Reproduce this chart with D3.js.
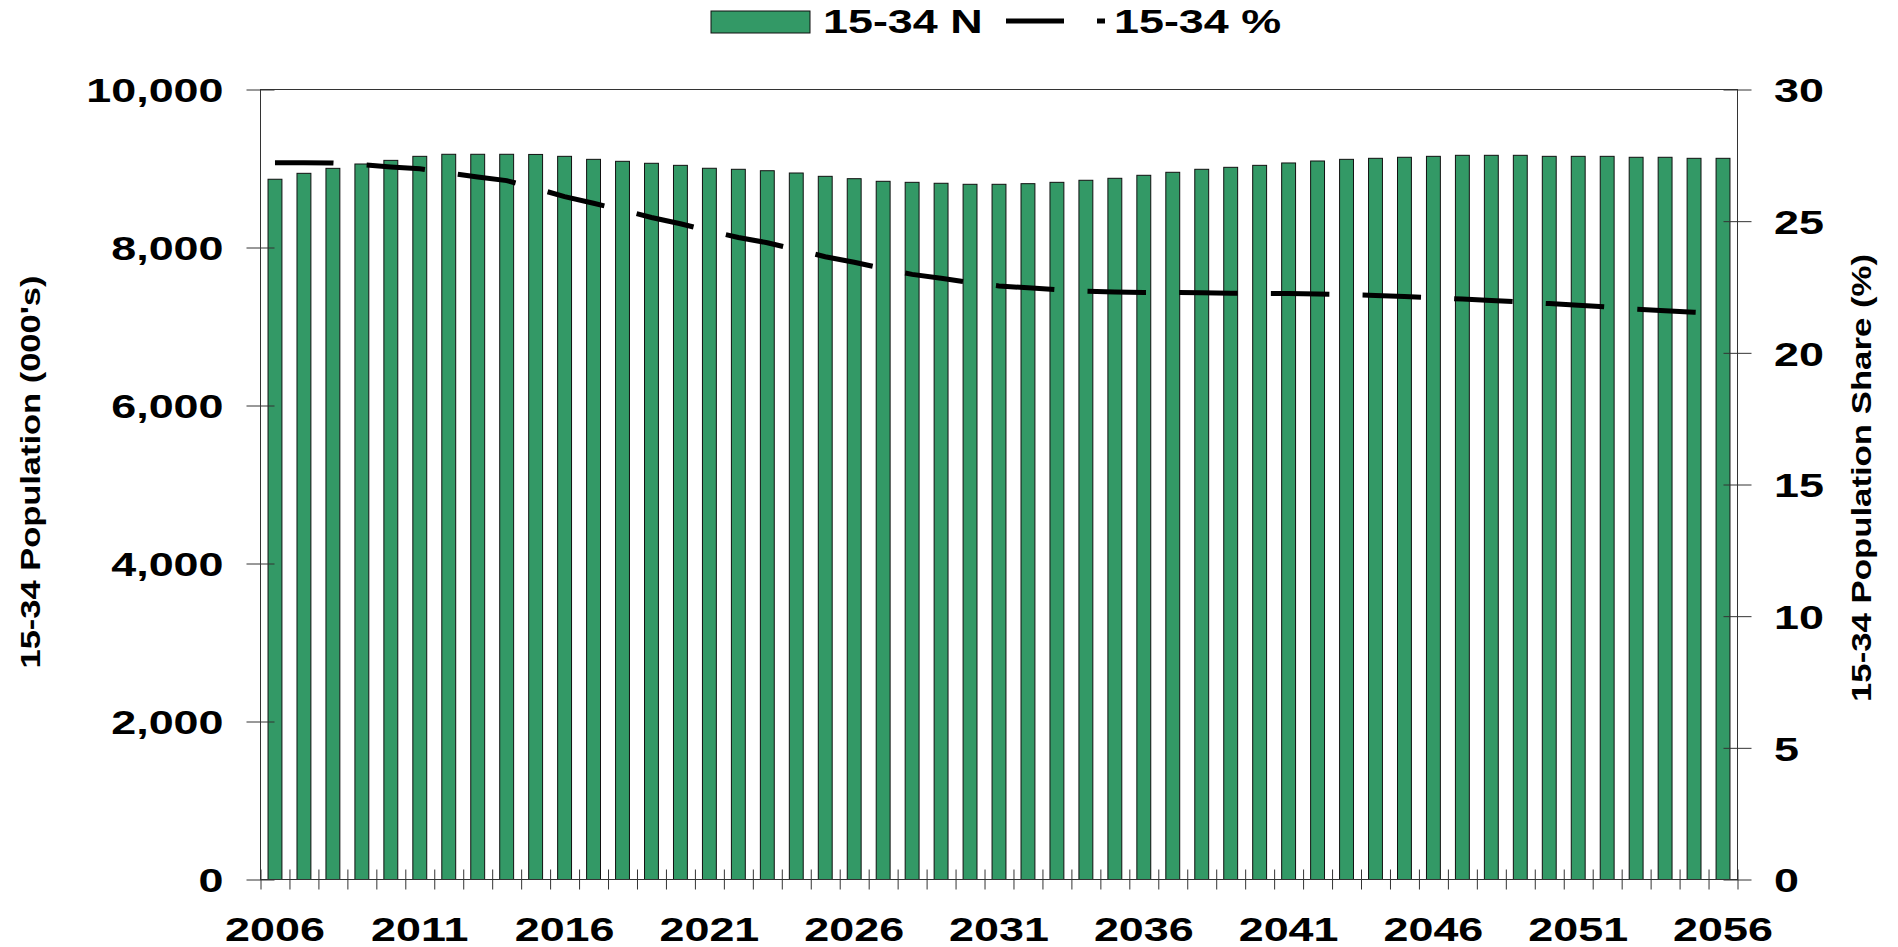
<!DOCTYPE html>
<html lang="en">
<head>
<meta charset="UTF-8">
<title>15-34 Population</title>
<style>
  body { margin: 0; background: #fff; }
  svg text { font-family: "Liberation Sans", Arial, sans-serif; font-weight: bold; fill: #000; }
</style>
</head>
<body>
<svg id="chart" width="1898" height="947"></svg>
<script src="https://d3js.org/d3.v7.min.js"></script>
<script>

    // years on the x axis
    var years = [2006, 2007, 2008, 2009, 2010, 2011, 2012, 2013, 2014, 2015,
                 2016, 2017, 2018, 2019, 2020, 2021, 2022, 2023, 2024, 2025,
                 2026, 2027, 2028, 2029, 2030, 2031, 2032, 2033, 2034, 2035,
                 2036, 2037, 2038, 2039, 2040, 2041, 2042, 2043, 2044, 2045,
                 2046, 2047, 2048, 2049, 2050, 2051, 2052, 2053, 2054, 2055, 2056];

    // 15-34 N (000's), bars
    var popN = [8864, 8939, 9002, 9057, 9103, 9154, 9180, 9180, 9180, 9178,
                9154, 9116, 9091, 9066, 9040, 9003, 8990, 8972, 8943, 8901,
                8871, 8838, 8825, 8813, 8800, 8800, 8808, 8825, 8851, 8876,
                8914, 8952, 8990, 9015, 9040, 9070, 9095, 9116, 9129, 9142,
                9154, 9167, 9167, 9167, 9154, 9154, 9154, 9142, 9142, 9129, 9129];

    // 15-34 % share, dashed line
    var popPct = [27.22, 27.22, 27.21, 27.15, 27.06, 26.99, 26.83, 26.68, 26.54, 26.25,
                  25.93, 25.68, 25.42, 25.14, 24.90, 24.63, 24.38, 24.18, 23.92, 23.65,
                  23.44, 23.20, 22.98, 22.83, 22.67, 22.54, 22.47, 22.40, 22.34, 22.31,
                  22.29, 22.29, 22.28, 22.26, 22.26, 22.25, 22.23, 22.21, 22.18, 22.14,
                  22.09, 22.04, 21.99, 21.93, 21.87, 21.81, 21.74, 21.66, 21.60, 21.54, 21.50];

    var yearLabels = [2006, 2011, 2016, 2021, 2026, 2031, 2036, 2041, 2046, 2051, 2056];
    var leftTicks  = [0, 2000, 4000, 6000, 8000, 10000];
    var rightTicks = [0, 5, 10, 15, 20, 25, 30];

    var svg = d3.select("#chart"),
        pLeft = 260.5, pRight = 1737.5, pTop = 89.5, pBottom = 879.5,
        stretch = 1.32,            // the original text is drawn wide
        green = "#339966",
        dash = "58.5,33.2";

    var x = d3.scaleBand().domain(years).range([pLeft, pRight])
              .paddingInner(0.52).paddingOuter(0.26);
    var xEdge = d3.scaleLinear().domain([0, years.length]).range([pLeft, pRight]);
    var yL = d3.scaleLinear().domain([0, 10000]).range([pBottom, pTop]);
    var yR = d3.scaleLinear().domain([0, 30]).range([pBottom, pTop]);

    // bars
    svg.append("g").selectAll("rect")
        .data(popN)
        .join("rect")
        .attr("x", function (d, i) { return x(years[i]); })
        .attr("y", function (d) { return yL(d); })
        .attr("width", x.bandwidth())
        .attr("height", function (d) { return pBottom - yL(d); })
        .attr("fill", green)
        .attr("stroke", "#111")
        .attr("stroke-width", 1);

    // frame round the plot
    svg.append("rect")
        .attr("x", pLeft).attr("y", pTop)
        .attr("width", pRight - pLeft).attr("height", pBottom - pTop)
        .attr("fill", "none").attr("stroke", "#333").attr("stroke-width", 1);

    // left axis
    var gL = svg.append("g").attr("transform", "translate(" + pLeft + ",0)")
        .call(d3.axisLeft(yL).tickValues(leftTicks).tickFormat(d3.format(",")));
    gL.select(".domain").remove();
    gL.selectAll("line").attr("x1", -14).attr("x2", 14).attr("stroke", "#333");
    gL.selectAll("text")
        .attr("x", -37 / stretch).attr("dy", "0.36em")
        .attr("transform", "scale(" + stretch + ",1)")
        .style("font-size", "34px");

    // right axis
    var gR = svg.append("g").attr("transform", "translate(" + pRight + ",0)")
        .call(d3.axisRight(yR).tickValues(rightTicks));
    gR.select(".domain").remove();
    gR.selectAll("line").attr("x1", -14).attr("x2", 14).attr("stroke", "#333");
    gR.selectAll("text")
        .attr("x", 36.5 / stretch).attr("dy", "0.36em")
        .attr("transform", "scale(" + stretch + ",1)")
        .style("font-size", "34px");

    // bottom ticks sit between the bars
    var gB = svg.append("g").attr("transform", "translate(0," + pBottom + ")")
        .call(d3.axisBottom(xEdge).tickValues(d3.range(years.length + 1)).tickFormat(""));
    gB.select(".domain").remove();
    gB.selectAll("line").attr("y1", -10).attr("y2", 10).attr("stroke", "#333");

    // year labels, every fifth year
    var gY = svg.append("g").attr("transform", "translate(0," + pBottom + ")")
        .call(d3.axisBottom(x).tickValues(yearLabels).tickSize(0));
    gY.select(".domain").remove();
    gY.selectAll("text")
        .attr("x", 0).attr("y", 61.5).attr("dy", 0)
        .attr("transform", "scale(" + stretch + ",1)")
        .style("font-size", "34px");

    // dashed share line
    var line = d3.line()
        .x(function (d, i) { return x(years[i]) + x.bandwidth() / 2; })
        .y(function (d) { return yR(d); });

    svg.append("path")
        .datum(popPct)
        .attr("d", line)
        .attr("fill", "none")
        .attr("stroke", "#000")
        .attr("stroke-width", 5)
        .attr("stroke-dasharray", dash);

    // axis titles
    svg.append("text")
        .attr("transform", "translate(40,472) rotate(-90)")
        .attr("text-anchor", "middle")
        .attr("textLength", 393).attr("lengthAdjust", "spacingAndGlyphs")
        .style("font-size", "28px")
        .text("15-34 Population (000's)");

    svg.append("text")
        .attr("transform", "translate(1871,478) rotate(-90)")
        .attr("text-anchor", "middle")
        .attr("textLength", 448).attr("lengthAdjust", "spacingAndGlyphs")
        .style("font-size", "28px")
        .text("15-34 Population Share (%)");

    // legend
    var lg = svg.append("g");
    lg.append("rect")
        .attr("x", 711).attr("y", 11).attr("width", 99).attr("height", 22)
        .attr("fill", green).attr("stroke", "#111").attr("stroke-width", 1);
    lg.append("text")
        .attr("x", 823 / stretch).attr("y", 33)
        .attr("transform", "scale(" + stretch + ",1)")
        .style("font-size", "34px")
        .text("15-34 N");
    lg.append("line")
        .attr("x1", 1006).attr("x2", 1105).attr("y1", 21).attr("y2", 21)
        .attr("stroke", "#000").attr("stroke-width", 5)
        .attr("stroke-dasharray", "58,33");
    lg.append("text")
        .attr("x", 1114 / stretch).attr("y", 33)
        .attr("transform", "scale(" + stretch + ",1)")
        .style("font-size", "34px")
        .text("15-34 %");

</script>
</body>
</html>
